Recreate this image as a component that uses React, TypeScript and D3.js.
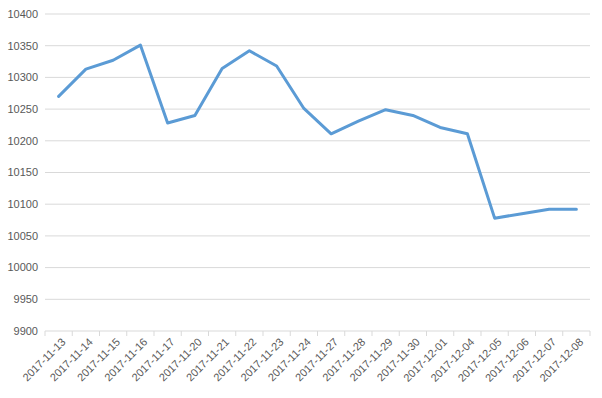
import React from "react";
import * as d3 from "d3";

const categories = [
  "2017-11-13", "2017-11-14", "2017-11-15", "2017-11-16", "2017-11-17",
  "2017-11-20", "2017-11-21", "2017-11-22", "2017-11-23", "2017-11-24",
  "2017-11-27", "2017-11-28", "2017-11-29", "2017-11-30", "2017-12-01",
  "2017-12-04", "2017-12-05", "2017-12-06", "2017-12-07", "2017-12-08",
];
const values = [
  10270, 10313, 10327, 10351, 10228,
  10240, 10314, 10342, 10318, 10251,
  10211, 10231, 10249, 10240, 10221,
  10211, 10078, 10085, 10092, 10092,
];
const yTicks = [9900, 9950, 10000, 10050, 10100, 10150, 10200, 10250, 10300, 10350, 10400];

const W = 602, H = 398;
const left = 45, right = 590, top = 14, bottom = 331;

export default function App() {
  const x = d3.scaleBand<string>().domain(categories).range([left, right]);
  const y = d3.scaleLinear().domain([9900, 10400]).range([bottom, top]);
  const line = d3.line<number>()
    .x((_, i) => (x(categories[i]) as number) + x.bandwidth() / 2)
    .y((d) => y(d));
  const font = "'Liberation Sans', Arial, sans-serif";
  const boundaries = categories.map((c) => x(c) as number).concat([right]);
  return (
    <svg width={W} height={H} style={{ position: "absolute", left: 0, top: 0, background: "#fff" }}>
      {yTicks.map((t) => (
        <g key={t}>
          <line x1={left} x2={right} y1={y(t)} y2={y(t)} stroke="#d9d9d9" strokeWidth={1} />
          <text x={38} y={y(t)} dy="0.35em" textAnchor="end" fontFamily={font} fontSize={11} fill="#595959">{t}</text>
        </g>
      ))}
      {boundaries.map((b, i) => (
        <line key={i} x1={b} x2={b} y1={bottom} y2={bottom + 5} stroke="#d9d9d9" strokeWidth={1} />
      ))}
      {categories.map((c) => {
        const cx = (x(c) as number) + x.bandwidth() / 2 + 5;
        const cy = bottom + 9;
        return (
          <text key={c} x={cx} y={cy} dy="0.35em" textAnchor="end" transform={`rotate(-45 ${cx} ${cy})`}
            fontFamily={font} fontSize={11} fill="#595959">{c}</text>
        );
      })}
      <path d={line(values) || ""} fill="none" stroke="#5B9BD5" strokeWidth={3} strokeLinejoin="round" strokeLinecap="round" />
    </svg>
  );
}
